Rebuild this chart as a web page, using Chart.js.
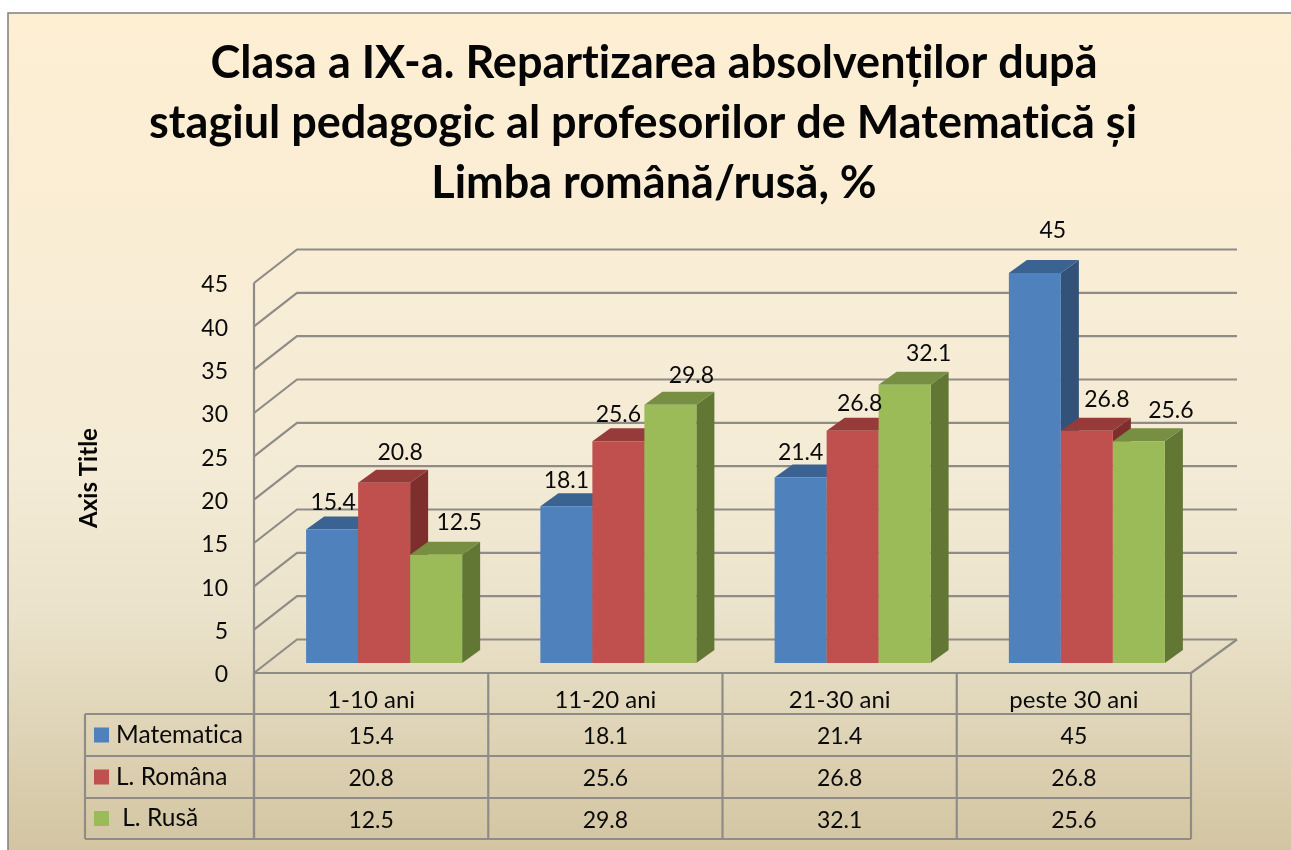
<!DOCTYPE html>
<html>
<head>
<meta charset="utf-8">
<script src="https://cdn.jsdelivr.net/npm/chart.js@4/dist/chart.umd.js"></script>
<style>
html,body{margin:0;padding:0;background:#fff;overflow:hidden}
#wrap{width:1291px;height:850px;position:relative}
canvas{display:block}
</style>
</head>
<body>
<div id="wrap"><canvas id="c" width="1291" height="850"></canvas></div>
<script>
const categories = ['1-10 ani', '11-20 ani', '21-30 ani', 'peste 30 ani'];
const matematica = [15.4, 18.1, 21.4, 45];
const lRomana = [20.8, 25.6, 26.8, 26.8];
const lRusa = [12.5, 29.8, 32.1, 25.6];
const seriesNames = ['Matematica', 'L. Româna', ' L. Rusă'];
const titleLines = [
  'Clasa a IX-a. Repartizarea absolvenților după',
  'stagiul pedagogic al profesorilor de Matematică și  ',
  'Limba română/rusă, %'
];

// Styling and placement (not data)
const FONT = 'Lato, "Open Sans", sans-serif';
const frontColors = ['#4F81BD', '#C0504D', '#9BBB59'];
const topColors = ['#3B6391', '#953B39', '#768F43'];
const sideColors = ['#33527A', '#7E2F2D', '#637735'];
const GRID = '#8F8C88';
const wallDepth = {dx: 43, dy: -33.5};
const barShift = {dx: 13, dy: -10};
const barDepth = {dx: 18, dy: -13};
const labelNudgeX = [[1, 16, 23], [0, 0, 21], [0, 7, 24], [18, 20, 32]];
const labelNudgeY = [[-27, -30, -32], [-26, -27, -29], [-25, -27, -31], [-42, -31, -31]];
const tableRows = [714, 756, 798, 839];
const tableLeft = 85;

const scene3d = {
  id: 'scene3d',
  beforeDraw(chart) {
    const ctx = chart.ctx;
    ctx.letterSpacing = '0.01px';
    ctx.save();
    ctx.fillStyle = '#fff';
    ctx.fillRect(0, 0, chart.width, chart.height);
    const g = ctx.createLinearGradient(0, 13, 0, 850);
    g.addColorStop(0, '#FEEFD3');
    g.addColorStop(0.55, '#F4EBD6');
    g.addColorStop(0.72, '#EAE2CA');
    g.addColorStop(1, '#D3C5A2');
    ctx.fillStyle = g;
    ctx.fillRect(8, 13, chart.width - 8, chart.height - 13);
    ctx.strokeStyle = '#7F7F7F';
    ctx.lineWidth = 1.5;
    ctx.beginPath();
    ctx.moveTo(8, 850); ctx.lineTo(8, 13); ctx.lineTo(chart.width, 13);
    ctx.stroke();
    ctx.restore();
  },
  beforeDatasetsDraw(chart) {
    const ctx = chart.ctx, y = chart.scales.y, x = chart.scales.x;
    const L = x.left, R = x.right;
    ctx.save();
    ctx.strokeStyle = GRID;
    ctx.lineWidth = 2.2;
    ctx.lineJoin = 'round';
    // walls and gridlines
    y.ticks.forEach(t => {
      const p = y.getPixelForValue(t.value);
      ctx.beginPath();
      ctx.moveTo(L, p);
      ctx.lineTo(L + wallDepth.dx, p + wallDepth.dy);
      ctx.lineTo(R + wallDepth.dx + 3, p + wallDepth.dy);
      ctx.stroke();
    });
    const base = y.getPixelForValue(0), top = y.getPixelForValue(45);
    ctx.beginPath();
    ctx.moveTo(L, top); ctx.lineTo(L, chart.height - 11);
    ctx.stroke();
    ctx.beginPath();
    ctx.moveTo(L, base); ctx.lineTo(R, base);
    ctx.lineTo(R + wallDepth.dx + 3, base + wallDepth.dy);
    ctx.stroke();
    // data table
    const cw = (R - L) / categories.length;
    for (let i = 0; i <= categories.length; i++) {
      ctx.beginPath();
      ctx.moveTo(L + i * cw, base);
      ctx.lineTo(L + i * cw, tableRows[tableRows.length - 1]);
      ctx.stroke();
    }
    tableRows.forEach(r => {
      ctx.beginPath(); ctx.moveTo(tableLeft, r); ctx.lineTo(R, r); ctx.stroke();
    });
    ctx.beginPath();
    ctx.moveTo(tableLeft, tableRows[0]);
    ctx.lineTo(tableLeft, tableRows[tableRows.length - 1]);
    ctx.stroke();
    ctx.textBaseline = 'middle';
    chart.data.datasets.forEach((ds, s) => {
      const cy = (tableRows[s] + tableRows[s + 1]) / 2;
      ctx.fillStyle = frontColors[s];
      ctx.fillRect(94, cy - 7.5, 15, 15);
      ctx.fillStyle = '#0A0A0A';
      ctx.textAlign = 'left';
      ctx.font = '24.5px ' + FONT;
      ctx.fillText(ds.label, 116, cy);
      ctx.textAlign = 'center';
      ctx.font = '23px ' + FONT;
      ds.data.forEach((v, i) => ctx.fillText(String(v), x.getPixelForTick(i), cy + 2));
    });
    ctx.restore();
  },
  beforeDatasetDraw() { return false; },
  afterDatasetsDraw(chart) {
    const ctx = chart.ctx;
    const metas = chart.data.datasets.map((d, s) => chart.getDatasetMeta(s));
    ctx.save();
    ctx.translate(barShift.dx, barShift.dy);
    categories.forEach((c, i) => {
      metas.forEach((m, s) => {
        const b = m.data[i].getProps(['x', 'y', 'base', 'width'], true);
        const x0 = b.x - b.width / 2, x1 = b.x + b.width / 2;
        const d = barDepth;
        ctx.fillStyle = sideColors[s];
        ctx.beginPath();
        ctx.moveTo(x1, b.base); ctx.lineTo(x1 + d.dx, b.base + d.dy);
        ctx.lineTo(x1 + d.dx, b.y + d.dy); ctx.lineTo(x1, b.y);
        ctx.closePath(); ctx.fill();
        ctx.fillStyle = topColors[s];
        ctx.beginPath();
        ctx.moveTo(x0, b.y); ctx.lineTo(x1, b.y);
        ctx.lineTo(x1 + d.dx, b.y + d.dy); ctx.lineTo(x0 + d.dx, b.y + d.dy);
        ctx.closePath(); ctx.fill();
        m.data[i].draw(ctx);
      });
    });
    // value labels
    ctx.font = '23px ' + FONT;
    ctx.fillStyle = '#0A0A0A';
    ctx.textAlign = 'center';
    ctx.textBaseline = 'middle';
    categories.forEach((c, i) => {
      metas.forEach((m, s) => {
        const b = m.data[i];
        ctx.fillText(String(chart.data.datasets[s].data[i]),
          b.x + labelNudgeX[i][s], b.y + labelNudgeY[i][s]);
      });
    });
    ctx.restore();
  }
};

new Chart(document.getElementById('c'), {
  type: 'bar',
  data: {
    labels: categories,
    datasets: [
      {label: seriesNames[0], data: matematica, backgroundColor: frontColors[0]},
      {label: seriesNames[1], data: lRomana, backgroundColor: frontColors[1]},
      {label: seriesNames[2], data: lRusa, backgroundColor: frontColors[2]}
    ]
  },
  options: {
    responsive: false,
    animation: false,
    categoryPercentage: 0.666,
    barPercentage: 1,
    layout: {padding: {left: 17, right: 0, top: 0, bottom: 0}},
    plugins: {
      legend: {display: false},
      tooltip: {enabled: false},
      title: {
        display: true,
        text: titleLines,
        color: '#050505',
        font: {family: FONT, size: 45, weight: 'bold', lineHeight: 60 / 45},
        padding: {top: 33, bottom: 70}
      }
    },
    scales: {
      x: {
        grid: {display: false, drawTicks: false},
        border: {display: false},
        ticks: {color: '#0A0A0A', font: {family: FONT, size: 24}, padding: 13, maxRotation: 0},
        afterFit(s) { s.height = 177; }
      },
      y: {
        min: 0, max: 45,
        grid: {display: false, drawTicks: false},
        border: {display: false},
        ticks: {stepSize: 5, color: '#0A0A0A', font: {family: FONT, size: 23}, padding: 26, labelOffset: 2},
        title: {
          display: true, text: 'Axis Title', color: '#050505',
          font: {family: FONT, size: 24, weight: 'bold'}, padding: {top: 57.6, bottom: 0}
        },
        afterFit(s) { s.width = 237; }
      },
      yRight: {
        position: 'right', display: true,
        grid: {display: false, drawTicks: false},
        border: {display: false},
        ticks: {display: false},
        afterFit(s) { s.width = 100; }
      }
    }
  },
  plugins: [scene3d]
});
</script>
</body>
</html>
